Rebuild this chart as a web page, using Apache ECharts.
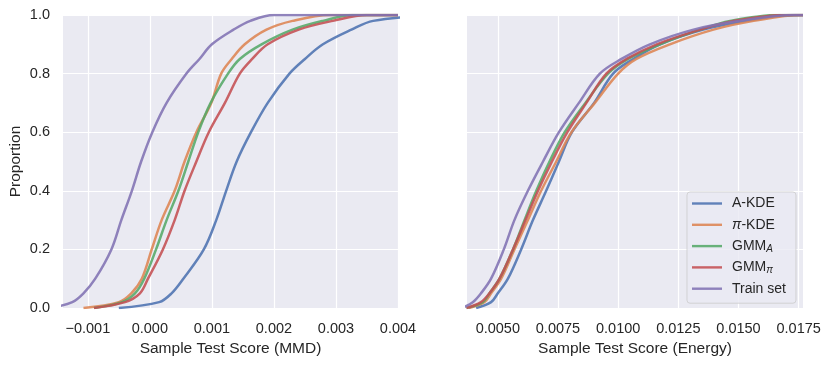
<!DOCTYPE html>
<html>
<head>
<meta charset="utf-8">
<title>ECDF of sample test scores</title>
<script src="https://cdn.jsdelivr.net/npm/echarts@6.0.0/dist/echarts.min.js"></script>
<style>
  html, body { margin: 0; padding: 0; background: #ffffff; }
  #chart { width: 830px; height: 365px; }
</style>
</head>
<body>
<div id="chart"></div>
<script>
const proportionLevels = [0, 0.02, 0.05, 0.1, 0.2, 0.3, 0.4, 0.5, 0.6, 0.7, 0.8, 0.85, 0.9, 0.95, 0.98, 1.0];

// left panel: MMD score at each proportion level
const aKdeMmd   = [-0.0005, 0.00015, 0.00035, 0.00054, 0.00087, 0.00107, 0.00123, 0.0014, 0.00163, 0.0019, 0.00225, 0.0025, 0.00279, 0.00325, 0.0036, 0.0046];
const piKdeMmd  = [-0.00107, -0.0005, -0.0003, -0.00013, 0.00003, 0.00019, 0.0004, 0.00056, 0.00075, 0.00099, 0.00115, 0.00132, 0.00153, 0.00188, 0.0023, 0.0029];
const gmmAMmd   = [-0.0009, -0.00045, -0.00024, -0.00009, 0.0001, 0.00027, 0.00046, 0.00062, 0.00078, 0.00098, 0.00126, 0.00145, 0.0018, 0.0023, 0.00279, 0.00327];
const gmmPiMmd  = [-0.0009, -0.0004, -0.00016, -0.00003, 0.00021, 0.0004, 0.00056, 0.00075, 0.00095, 0.00121, 0.00145, 0.00165, 0.0019, 0.0024, 0.00295, 0.0035];
const trainMmd  = [-0.0016, -0.00125, -0.00107, -0.00088, -0.00062, -0.00046, -0.00029, -0.00014, 0.00004, 0.00027, 0.00059, 0.0008, 0.001, 0.00135, 0.00162, 0.002];

// right panel: energy score at each proportion level
const aKdeEnergy  = [0.0041, 0.00472, 0.005, 0.00542, 0.00597, 0.00646, 0.00701, 0.00754, 0.00808, 0.009, 0.00979, 0.01063, 0.01174, 0.01354, 0.01535, 0.0173];
const piKdeEnergy = [0.0038, 0.00444, 0.00472, 0.00514, 0.00569, 0.00625, 0.0068, 0.00743, 0.00806, 0.00903, 0.0100, 0.01076, 0.01215, 0.01396, 0.01563, 0.0176];
const gmmAEnergy  = [0.0037, 0.00438, 0.00465, 0.00507, 0.00563, 0.00611, 0.0066, 0.00715, 0.00778, 0.00864, 0.00958, 0.01042, 0.01174, 0.0134, 0.01465, 0.0167];
const gmmPiEnergy = [0.0037, 0.0043, 0.00465, 0.00507, 0.00563, 0.00615, 0.00667, 0.00725, 0.00789, 0.00868, 0.00951, 0.01035, 0.0116, 0.0134, 0.0148, 0.0170];
const trainEnergy = [0.0035, 0.00396, 0.0043, 0.00472, 0.00525, 0.00569, 0.00625, 0.00688, 0.00754, 0.00837, 0.00924, 0.01014, 0.01132, 0.01313, 0.01507, 0.0173];

const seriesNames = ['A-KDE', 'π-KDE', 'GMM_A', 'GMM_π', 'Train set'];
const seriesColors = ['#4c72b0', '#dd8452', '#55a868', '#c44e52', '#8172b3'];

// tick labels
const mmdTicks = [-0.001, 0.000, 0.001, 0.002, 0.003, 0.004];
const energyTicks = [0.0050, 0.0075, 0.0100, 0.0125, 0.0150, 0.0175];
const proportionTicks = [0, 0.2, 0.4, 0.6, 0.8, 1.0];

const mmdRange = [-0.0014, 0.004];
const energyRange = [0.00372, 0.01768];

const FONT = '"Liberation Sans", Arial, Helvetica, sans-serif';
const TEXT = '#262626';
// thin horizontal bar inside a 30x17 box, used as legend line sample
const LEGEND_LINE = 'path://M0,0 M30,17 M0,7.3 L30,7.3 L30,9.7 L0,9.7 Z';

const chart = echarts.init(document.getElementById('chart'), null, { renderer: 'canvas' });

// pair the read x values with the proportion levels; the ECDF stays at 1 up to the axis end
function ecdfPoints(xs, axisMax) {
  const pts = xs.map((x, i) => [x, proportionLevels[i]]);
  const last = xs[xs.length - 1];
  if (last < axisMax) pts.push([axisMax, 1]);
  return pts;
}

function xAxisFor(gridIndex, range, ticks, name, fmt) {
  return {
    type: 'value',
    gridIndex,
    min: range[0],
    max: range[1],
    name,
    nameLocation: 'middle',
    nameGap: 32,
    nameTextStyle: { color: TEXT, fontSize: 15.5, fontFamily: FONT },
    axisLine: { show: false },
    axisTick: { show: false, customValues: ticks },
    axisLabel: {
      customValues: ticks,
      color: TEXT, fontSize: 14.5, fontFamily: FONT, margin: 13,
      formatter: fmt
    },
    splitLine: { show: true, lineStyle: { color: '#ffffff', width: 1.2 } }
  };
}

function yAxisFor(gridIndex, showLabels) {
  return {
    type: 'value',
    gridIndex,
    min: 0,
    max: 1,
    interval: 0.2,
    name: showLabels ? 'Proportion' : '',
    nameLocation: 'middle',
    nameGap: 39,
    nameTextStyle: { color: TEXT, fontSize: 15.5, fontFamily: FONT },
    axisLine: { show: false },
    axisTick: { show: false },
    axisLabel: {
      show: showLabels,
      color: TEXT, fontSize: 14.5, fontFamily: FONT, margin: 13,
      formatter: v => v.toFixed(1)
    },
    splitLine: { show: true, lineStyle: { color: '#ffffff', width: 1.2 } }
  };
}

const mmdData = [aKdeMmd, piKdeMmd, gmmAMmd, gmmPiMmd, trainMmd];
const energyData = [aKdeEnergy, piKdeEnergy, gmmAEnergy, gmmPiEnergy, trainEnergy];

const series = [];
[[mmdData, 0, mmdRange], [energyData, 1, energyRange]].forEach(([panel, idx, range]) => {
  panel.forEach((xs, i) => {
    series.push({
      type: 'line',
      name: seriesNames[i],
      xAxisIndex: idx,
      yAxisIndex: idx,
      data: ecdfPoints(xs, range[1]),
      showSymbol: false,
      symbol: 'none',
      smooth: 0.35,
      clip: true,
      color: seriesColors[i],
      lineStyle: { width: 2.5, opacity: 0.88, join: 'round' },
      emphasis: { disabled: true },
      z: 2 + i
    });
  });
});

const option = {
  animation: false,
  backgroundColor: '#ffffff',
  grid: [
    { left: 63, right: 432, top: 15, bottom: 57, show: true, backgroundColor: '#eaeaf2', borderWidth: 0, outerBoundsMode: 'none' },
    { left: 467, right: 27, top: 15, bottom: 57, show: true, backgroundColor: '#eaeaf2', borderWidth: 0, outerBoundsMode: 'none' }
  ],
  xAxis: [
    xAxisFor(0, mmdRange, mmdTicks, 'Sample Test Score (MMD)',
      v => (v < 0 ? '\u2212' : '') + Math.abs(v).toFixed(3)),
    xAxisFor(1, energyRange, energyTicks, 'Sample Test Score (Energy)',
      v => v.toFixed(4))
  ],
  yAxis: [yAxisFor(0, true), yAxisFor(1, false)],
  legend: {
    data: seriesNames.map(n => ({ name: n, icon: LEGEND_LINE })),
    orient: 'vertical',
    left: 687,
    top: 192,
    padding: [3, 10, 6, 5],
    itemWidth: 30,
    itemHeight: 17,
    itemGap: 4.3,
    backgroundColor: 'rgba(234,234,242,0.8)',
    borderColor: 'rgba(204,204,204,0.8)',
    borderWidth: 1,
    borderRadius: 3,
    selectedMode: false,
    itemStyle: { opacity: 0.88 },
    formatter: name => name.replace(/π-/, '{it|π}-').replace(/_(.)/, '{sub|$1}'),
    textStyle: {
      color: TEXT, fontSize: 14, fontFamily: FONT, padding: [0, 0, 0, 5],
      rich: {
        it: { fontStyle: 'italic', fontSize: 14, fontFamily: FONT, color: TEXT },
        sub: { fontStyle: 'italic', fontSize: 10, fontFamily: FONT, color: TEXT, padding: [6, 0, 0, 0] }
      }
    }
  },
  series
};

chart.setOption(option);
</script>
</body>
</html>
